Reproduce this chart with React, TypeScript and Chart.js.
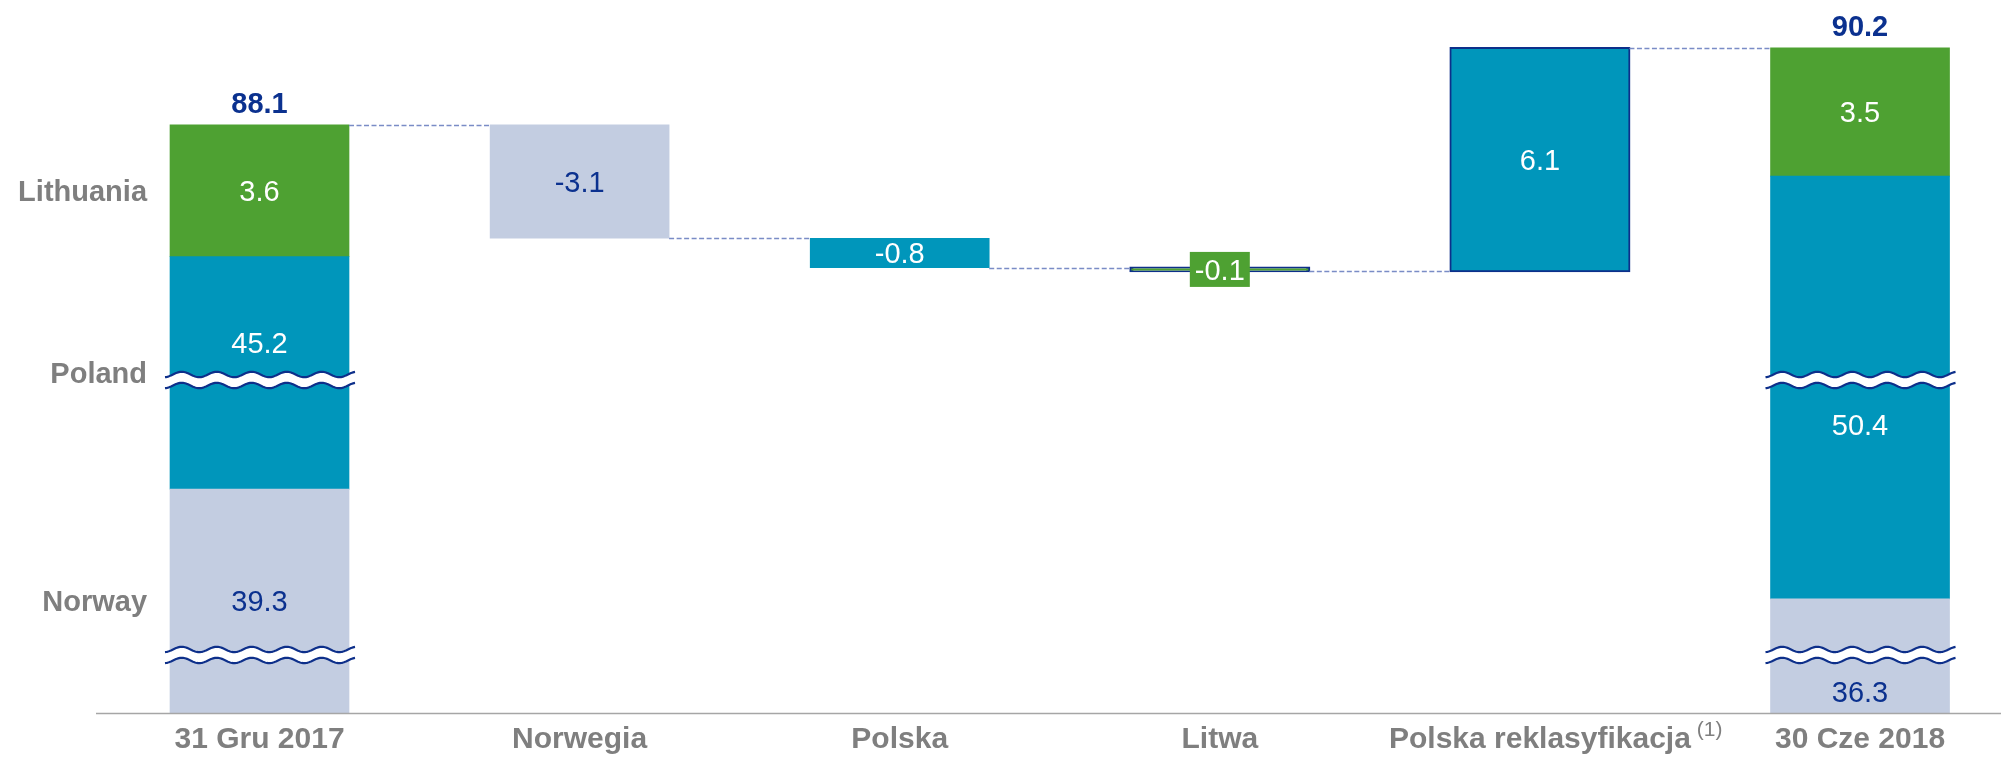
import React, { useEffect, useRef } from 'react';
import { Chart, registerables, LinearScale } from 'chart.js';

// ---------- data ----------
const categories = ['31 Gru 2017', 'Norwegia', 'Polska', 'Litwa', 'Polska reklasyfikacja', '30 Cze 2018'];
const categoryNotes = ['', '', '', '', '(1)', ''];
const segmentNames = ['Norway', 'Poland', 'Lithuania'];
const openingValues = [39.3, 45.2, 3.6];
const changeValues = [-3.1, -0.8, -0.1, 6.1];
const changeSegments = [0, 1, 2, 1];
const closingValues = [36.3, 50.4, 3.5];

// ---------- styles ----------
const segmentColors = ['#c3cde1', '#0096bb', '#4ea132'];
const DARK = '#0b318f';
const GREY = '#7f7f7f';
const FONT = "'Liberation Sans', Arial, sans-serif";
const outlinedCategories = [3, 4];
const labelAnchors: Record<string, number> = { '0-1': 0.37, '5-1': 0.587, '5-0': 0.81 };

// ---------- broken axis geometry (value -> virtual units) ----------
const LOW_CUT = 34.77;
const GAP_LOW = 42.28;
const GAP_HIGH = 81.13;
const LOW_SPAN = 1.585;

function toU(v: number) {
  if (v <= LOW_CUT) return (v / LOW_CUT) * LOW_SPAN;
  if (v <= GAP_LOW) return LOW_SPAN + (v - LOW_CUT);
  if (v < GAP_HIGH) return LOW_SPAN + (GAP_LOW - LOW_CUT);
  return LOW_SPAN + (GAP_LOW - LOW_CUT) + (v - GAP_HIGH);
}
function fromU(u: number) {
  if (u <= LOW_SPAN) return (u / LOW_SPAN) * LOW_CUT;
  const mid = LOW_SPAN + (GAP_LOW - LOW_CUT);
  if (u <= mid) return LOW_CUT + (u - LOW_SPAN);
  return GAP_HIGH + (u - mid);
}

class BrokenLinearScale extends LinearScale {
  static id = 'brokenLinear';
  getPixelForValue(value: any) {
    if (value === null || value === undefined || isNaN(value)) return NaN;
    return super.getPixelForValue(toU(value));
  }
  getValueForPixel(pixel: number) {
    return fromU(super.getValueForPixel(pixel) as number);
  }
}

Chart.register(...registerables);
Chart.register(BrokenLinearScale as any);

const sum = (a: number[]) => a.reduce((s, v) => s + v, 0);
const openingTotal = sum(openingValues);
const closingTotal = sum(closingValues);

function buildSegmentData(s: number) {
  const pts: any[] = [];
  const lo0 = sum(openingValues.slice(0, s));
  pts.push({ x: 0, y: [lo0, lo0 + openingValues[s]], text: openingValues[s].toFixed(1), seg: s });
  let running = openingTotal;
  changeValues.forEach((c, k) => {
    const next = running + c;
    if (changeSegments[k] === s) {
      pts.push({ x: k + 1, y: [Math.min(running, next), Math.max(running, next)], text: c.toFixed(1), seg: s });
    }
    running = next;
  });
  const lo1 = sum(closingValues.slice(0, s));
  pts.push({ x: categories.length - 1, y: [lo1, lo1 + closingValues[s]], text: closingValues[s].toFixed(1), seg: s });
  return pts;
}

const levels: number[] = (() => {
  const l = [openingTotal];
  let r = openingTotal;
  changeValues.forEach((c) => { r += c; l.push(r); });
  return l;
})();
const totals: Record<number, number> = { 0: openingTotal, [categories.length - 1]: closingTotal };

function drawWave(ctx: CanvasRenderingContext2D, x0: number, x1: number, yc: number) {
  const gap = 5.5, A = 2.7, P = 35;
  const f = (x: number) => -A * Math.cos((2 * Math.PI * (x - x0 - 16.7)) / P);
  ctx.save();
  ctx.beginPath();
  for (let x = x0; x <= x1; x += 1) ctx.lineTo(x, yc - gap + f(x));
  for (let x = x1; x >= x0; x -= 1) ctx.lineTo(x, yc + gap + f(x));
  ctx.closePath();
  ctx.fillStyle = '#ffffff';
  ctx.fill();
  ctx.strokeStyle = '#0d2f8a';
  ctx.lineWidth = 2.2;
  for (const off of [-gap, gap]) {
    ctx.beginPath();
    for (let x = x0; x <= x1; x += 1) {
      if (x === x0) ctx.moveTo(x, yc + off + f(x));
      else ctx.lineTo(x, yc + off + f(x));
    }
    ctx.stroke();
  }
  ctx.restore();
}

const decorPlugin = {
  id: 'waterfallDecor',
  afterDatasetsDraw(chart: any) {
    const ctx: CanvasRenderingContext2D = chart.ctx;
    const xs = chart.scales.x;
    const ys = chart.scales.y;
    const ca = chart.chartArea;
    const els: any[] = [];
    chart.data.datasets.forEach((ds: any, d: number) => {
      chart.getDatasetMeta(d).data.forEach((el: any, j: number) => {
        els.push({ el, raw: ds.data[j] });
      });
    });
    const elAt = (x: number) => els.find((e) => e.raw.x === x).el;

    ctx.save();
    // connectors
    ctx.strokeStyle = '#7a8cc6';
    ctx.lineWidth = 1.5;
    ctx.setLineDash([5, 2.5]);
    for (let i = 0; i < categories.length - 1; i++) {
      const a = elAt(i), b = elAt(i + 1);
      const y = Math.round(ys.getPixelForValue(levels[i])) + 0.5;
      ctx.beginPath();
      ctx.moveTo(a.x + a.width / 2, y);
      ctx.lineTo(b.x - b.width / 2, y);
      ctx.stroke();
    }
    ctx.setLineDash([]);

    // breaks
    els.forEach(({ el, raw }) => {
      for (const cut of [LOW_CUT, GAP_LOW]) {
        if (raw.y[0] < cut && raw.y[1] > cut) {
          drawWave(ctx, el.x - el.width / 2 - 5, el.x + el.width / 2 + 6, ys.getPixelForValue(cut));
        }
      }
    });

    // value labels
    els.forEach(({ el, raw }) => {
      const top = Math.min(el.y, el.base);
      const bottom = Math.max(el.y, el.base);
      const frac = labelAnchors[`${raw.x}-${raw.seg}`] ?? 0.5;
      const cy = top + frac * (bottom - top);
      if (bottom - top < 20) {
        ctx.fillStyle = segmentColors[raw.seg];
        ctx.fillRect(el.x - 30, cy - 17.5, 60, 35);
      }
      ctx.fillStyle = raw.seg === 0 ? DARK : '#ffffff';
      ctx.font = `29px ${FONT}`;
      ctx.textAlign = 'center';
      ctx.textBaseline = 'alphabetic';
      ctx.fillText(raw.text, el.x, cy + 10.4);
      // segment names beside the first bar
      if (raw.x === 0) {
        ctx.fillStyle = GREY;
        ctx.font = `bold 29px ${FONT}`;
        ctx.textAlign = 'right';
        ctx.fillText(segmentNames[raw.seg], el.x - el.width / 2 - 23, (top + bottom) / 2 + 10.4);
      }
    });

    // totals
    Object.keys(totals).forEach((k) => {
      const i = Number(k);
      const v = totals[i];
      ctx.fillStyle = DARK;
      ctx.font = `bold 29px ${FONT}`;
      ctx.textAlign = 'center';
      ctx.fillText(v.toFixed(1), xs.getPixelForValue(i), ys.getPixelForValue(v) - 12);
    });

    // category labels
    categories.forEach((c, i) => {
      const cx = xs.getPixelForValue(i);
      ctx.font = `bold 30px ${FONT}`;
      ctx.fillStyle = GREY;
      ctx.textAlign = 'center';
      ctx.fillText(c, cx, 748);
      if (categoryNotes[i]) {
        const w = ctx.measureText(c).width;
        ctx.font = `21px ${FONT}`;
        ctx.textAlign = 'left';
        ctx.fillText(categoryNotes[i], cx + w / 2 + 6, 736);
      }
    });

    // axis line
    ctx.strokeStyle = '#a6a6a6';
    ctx.lineWidth = 1.5;
    ctx.beginPath();
    ctx.moveTo(ca.left, ca.bottom + 0.5);
    ctx.lineTo(ca.right, ca.bottom + 0.5);
    ctx.stroke();
    ctx.restore();
  },
};

export default function App() {
  const ref = useRef<HTMLCanvasElement>(null);
  useEffect(() => {
    document.body.style.margin = '0';
    document.body.style.overflow = 'hidden';
    const canvas = ref.current!;
    const datasets = segmentNames.map((name, s) => ({
      label: name,
      data: buildSegmentData(s),
      backgroundColor: segmentColors[s],
      borderColor: '#0d2f8a',
      borderWidth: (c: any) => (outlinedCategories.includes(c.raw?.x) ? 2 : 0),
      inflateAmount: (c: any) => (outlinedCategories.includes(c.raw?.x) ? 1 : 'auto'),
      borderSkipped: false,
      grouped: false,
      barPercentage: 1,
      categoryPercentage: 1,
      maxBarThickness: 179,
    }));
    const chart = new Chart(canvas, {
      type: 'bar',
      data: { datasets } as any,
      options: {
        animation: false,
        responsive: false,
        devicePixelRatio: 1,
        layout: { padding: { left: 96, right: 0, top: 10, bottom: 52 } },
        plugins: { legend: { display: false }, tooltip: { enabled: false } },
        scales: {
          x: {
            type: 'linear',
            display: false,
            offset: false,
            min: -0.5108,
            max: 5.4404,
            afterBuildTicks: (s: any) => {
              s.ticks = categories.map((_, i) => ({ value: i }));
            },
          },
          y: { type: 'brokenLinear', display: false, min: 0, max: 19.2 } as any,
        },
      } as any,
      plugins: [decorPlugin],
    });
    return () => chart.destroy();
  }, []);
  return (
    <div style={{ width: 2001, height: 765 }}>
      <canvas ref={ref} width={2001} height={765} style={{ display: 'block' }} />
    </div>
  );
}
